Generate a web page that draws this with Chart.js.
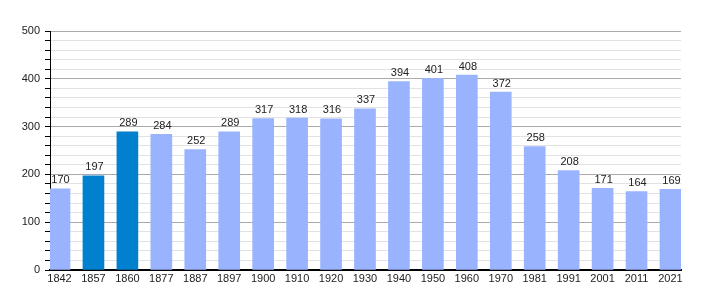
<!DOCTYPE html>
<html>
<head>
<meta charset="utf-8">
<script src="https://cdn.jsdelivr.net/npm/chart.js@4/dist/chart.umd.min.js"></script>
<style>
    html, body { margin: 0; padding: 0; background: #fff; }
    #wrap { width: 710px; height: 300px; }
</style>
</head>
<body>
<div id="wrap"><canvas id="myChart" width="710" height="300"></canvas></div>
<script>
const years = ['1842', '1857', '1860', '1877', '1887', '1897', '1900', '1910', '1920', '1930',
    '1940', '1950', '1960', '1970', '1981', '1991', '2001', '2011', '2021'];
const population = [170, 197, 289, 284, 252, 289, 317, 318, 316, 337,
    394, 401, 408, 372, 258, 208, 171, 164, 169];
const highlighted = ['1857', '1860'];
const yTicks = [0, 100, 200, 300, 400, 500];

const lightBlue = '#99b3ff';
const darkBlue = '#0080cf';

// draws the number above each bar
const valueLabels = {
    id: 'valueLabels',
    afterDatasetsDraw(chart) {
        let ctx = chart.ctx;
        let meta = chart.getDatasetMeta(0);
        ctx.save();
        ctx.font = '11px "Liberation Sans", Arial, sans-serif';
        ctx.fillStyle = '#222';
        ctx.textAlign = 'center';
        ctx.textBaseline = 'bottom';
        meta.data.forEach((bar, i) => {
            ctx.fillText(population[i], bar.x + 1, bar.y - 3);
        });
        ctx.restore();
    }
};

let ctx = document.getElementById('myChart').getContext('2d');
let myChart = new Chart(ctx, {
    type: 'bar',
    data: {
        datasets: [{
            data: population.map((v, i) => ({ x: i, y: v })),
            backgroundColor: years.map(y => highlighted.includes(y) ? darkBlue : lightBlue),
            barThickness: 21,
            borderWidth: 0
        }]
    },
    options: {
        responsive: false,
        animation: false,
        layout: {
            padding: { top: 31, right: 29, left: 0, bottom: 0 }
        },
        plugins: {
            legend: { display: false },
            tooltip: { enabled: false }
        },
        scales: {
            x: {
                type: 'linear',
                offset: false,
                min: -0.28,
                max: 18.31,
                afterBuildTicks: scale => {
                    scale.ticks = years.map((y, i) => ({ value: i }));
                },
                afterFit: scale => { scale.height = 30; },
                grid: { display: false, drawTicks: false },
                border: { color: '#000', width: 2 },
                ticks: {
                    autoSkip: false,
                    maxRotation: 0,
                    padding: 2,
                    color: '#222',
                    font: { family: '"Liberation Sans", Arial, sans-serif', size: 11 },
                    callback: value => years[value]
                }
            },
            y: {
                min: 0,
                max: 500,
                afterFit: scale => { scale.width = 50; },
                border: { color: '#000', width: 1 },
                grid: {
                    color: c => yTicks.includes(c.tick.value) ? '#aaa' : '#e2e2e2',
                    tickColor: '#000',
                    tickLength: 5,
                    lineWidth: 1
                },
                ticks: {
                    stepSize: 20,
                    padding: 5,
                    color: '#222',
                    autoSkip: false,
                    font: { family: '"Liberation Sans", Arial, sans-serif', size: 11 },
                    callback: value => yTicks.includes(value) ? value : ''
                }
            }
        }
    },
    plugins: [valueLabels]
});
</script>
</body>
</html>
